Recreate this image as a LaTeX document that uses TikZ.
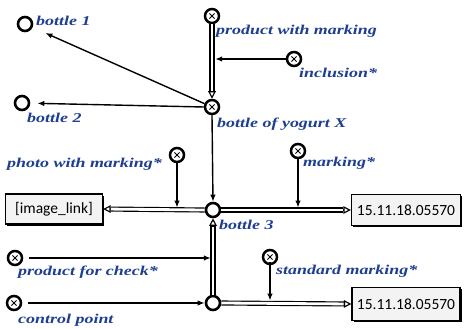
\documentclass[tikz,border=0pt]{standalone}
\usepackage{fontspec}
\setmainfont{Liberation Serif}
\newfontfamily\boxfont{Carlito}
\usetikzlibrary{arrows.meta,calc,shadows}

\definecolor{lblblue}{RGB}{30,62,145}
\definecolor{boxfill}{RGB}{243,243,243}

% widened label text
\newcommand\lt[1]{\scalebox{1.33}[1]{#1}}

% double (hollow) connector with a closing tip
\newcommand\dblarrow[2]{%
  \draw[dbl] (#1) -- ($(#2)!7.5pt!(#1)$);
  \draw[dtip] ($(#2)!7.7pt!(#1)$) -- (#2);
}

\tikzset{
  state/.style={circle, draw, line width=2.6pt, minimum size=14pt, inner sep=0pt, fill=white},
  ext/.style={circle, draw, line width=2.5pt, minimum size=14pt, inner sep=0pt, fill=white,
    path picture={
      \draw[line width=0.9pt]
        ($(path picture bounding box.center)+(-2.6pt,-2.6pt)$) -- ($(path picture bounding box.center)+(2.6pt,2.6pt)$)
        ($(path picture bounding box.center)+(-2.6pt,2.6pt)$) -- ($(path picture bounding box.center)+(2.6pt,-2.6pt)$);
    }},
  lbl/.style={font=\fontsize{13.5}{15}\selectfont\bfseries\itshape, text=lblblue, inner sep=0pt, anchor=west},
  arr/.style={-{Latex[length=7pt,width=5.5pt]}, line width=1.4pt},
  dbl/.style={double=white, double distance=2.8pt, line width=1.15pt},
  dtip/.style={-{Triangle[length=7.5pt,width=7.5pt,fill=white]}, line width=1.15pt},
  valbox/.style={draw, line width=1.2pt, fill=boxfill, inner sep=0pt,
    font=\boxfont\fontsize{15.5}{17}\selectfont,
    drop shadow={shadow xshift=1.8pt, shadow yshift=-1.8pt, fill=black, opacity=1},
    path picture={
      \fill (path picture bounding box.north west) -- ++(4.5pt,0) -- ++(-4.5pt,-4.5pt) -- cycle;
    }},
}

\begin{document}
\begin{tikzpicture}[x=1pt,y=-1pt]
  \useasboundingbox[fill=white] (0,0) rectangle (467,329);

  % places
  \node[state] (b1) at (25,24) {};
  \node[state] (b2) at (22,103) {};
  \node[ext] (pm) at (212,16) {};
  \node[ext] (inc) at (294,59) {};
  \node[ext] (yog) at (212,107) {};
  \node[ext] (pwm) at (177,155) {};
  \node[state] (b3) at (213,210) {};
  \node[ext] (mk) at (298,151) {};
  \node[ext] (pfc) at (15,258) {};
  \node[ext] (cp) at (14,303) {};
  \node[state] (b4) at (213,303) {};
  \node[ext] (sm) at (270,257) {};

  % value boxes
  \node[valbox, minimum width=97pt, minimum height=30pt] (img) at (54,209) {[image\_link]};
  \node[valbox, minimum width=109pt, minimum height=31pt] (v1) at (406,210) {15.11.18.05570};
  \node[valbox, minimum width=108pt, minimum height=33pt] (v2) at (406,304) {15.11.18.05570};

  % labels
  \node[lbl] (b1-l) at (36,21) {\lt{bottle 1}};
  \node[lbl] (b2-l) at (27,118) {\lt{bottle 2}};
  \node[lbl] (pm-l) at (216,31) {\lt{product with marking}};
  \node[lbl] (inc-l) at (299,73) {\lt{inclusion*}};
  \node[lbl] (yog-l) at (217,124) {\lt{bottle of yogurt X}};
  \node[lbl] (pwm-l) at (7,164) {\lt{photo with marking*}};
  \node[lbl] (mk-l) at (303,163) {\lt{marking*}};
  \node[lbl] (b3-l) at (219,225) {\lt{bottle 3}};
  \node[lbl] (pfc-l) at (18,272) {\lt{product for check*}};
  \node[lbl] (cp-l) at (18,320) {\lt{control point}};
  \node[lbl] (sm-l) at (276,271) {\lt{standard marking*}};

  % junction points on the hollow connectors
  \coordinate (j1) at (215.2,59);
  \coordinate (j2) at (177,207.6);
  \coordinate (j3) at (298,207.6);
  \coordinate (j4) at (210.8,258);
  \coordinate (j5) at (270,300.6);

  % hollow connectors
  \dblarrow{pm.south}{yog.north}
  \dblarrow{b3.west}{img.east}
  \dblarrow{b3.east}{v1.west}
  \dblarrow{b4.north}{b3.south}
  \dblarrow{b4.east}{v2.west}

  % plain connectors
  \draw[arr, shorten >=14pt] (yog) -- (b1);
  \draw[arr, shorten >=7pt] (yog.west) -- (b2);
  \draw[arr] (inc.west) -- (j1);
  \draw[arr] (yog.south) -- (b3.north);
  \draw[arr] (pwm.south) -- (j2);
  \draw[arr] (mk.south) -- (j3);
  \draw[arr] (pfc.east) ++(6pt,0) -- (j4);
  \draw[arr] (cp.east) ++(6pt,0) -- (b4.west);
  \draw[arr] (sm.south) ++(0,3pt) -- (j5);
\end{tikzpicture}
\end{document}
